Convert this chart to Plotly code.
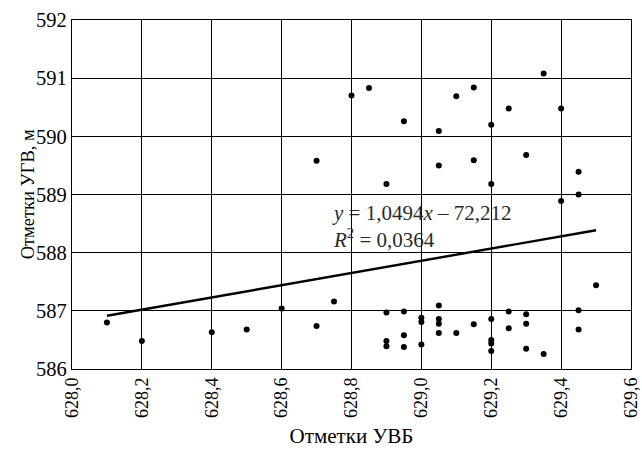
import plotly.graph_objects as go

# Observed pairs: headwater level (УВБ) vs groundwater level (УГВ)
uvb = [628.1, 628.2, 628.4, 628.5, 628.6, 628.7, 628.7, 628.75, 628.8, 628.85,
       628.9, 628.9, 628.9, 628.9, 628.95, 628.95, 628.95, 628.95,
       629.0, 629.0, 629.0, 629.05, 629.05, 629.05, 629.05, 629.05, 629.05,
       629.1, 629.1, 629.15, 629.15, 629.15,
       629.2, 629.2, 629.2, 629.2, 629.2, 629.2,
       629.25, 629.25, 629.25, 629.3, 629.3, 629.3, 629.3,
       629.35, 629.35, 629.4, 629.4, 629.45, 629.45, 629.45, 629.45, 629.5]
ugv = [586.80, 586.48, 586.63, 586.68, 587.04, 586.74, 589.58, 587.16, 590.70, 590.83,
       586.97, 589.18, 586.48, 586.39, 586.99, 586.58, 586.38, 590.26,
       586.88, 586.81, 586.42, 587.09, 586.86, 586.78, 586.62, 590.09, 589.50,
       586.62, 590.69, 586.77, 590.84, 589.59,
       586.86, 586.50, 586.44, 586.31, 590.20, 589.18,
       586.99, 586.70, 590.48, 586.94, 586.78, 586.35, 589.68,
       586.26, 591.08, 590.48, 588.89, 587.01, 586.68, 589.39, 589.00, 587.44]

# Linear trend coefficients
slope = 1.0494
intercept = -72.212
trend_x = [min(uvb), max(uvb)]
trend_y = [slope * v + intercept for v in trend_x]

font_family = "Liberation Serif, Times New Roman, serif"

fig = go.Figure()
fig.add_trace(go.Scatter(x=uvb, y=ugv, mode="markers",
                         marker=dict(color="black", size=6), showlegend=False))
fig.add_trace(go.Scatter(x=trend_x, y=trend_y, mode="lines",
                         line=dict(color="black", width=2.4), showlegend=False))

# Regression equation and coefficient of determination
fig.add_annotation(x=628.738, y=588.93, xref="x", yref="y",
                   text="<i>y</i> = 1,0494<i>x</i> – 72,212<br><i>R</i><sup>2</sup> = 0,0364",
                   showarrow=False, xanchor="left", yanchor="top", align="left",
                   font=dict(family=font_family, size=21, color="#2a2a2a"))

# Vertical axis title, placed close to the tick labels
fig.add_annotation(x=-0.079, y=0.5, xref="paper", yref="paper",
                   text="Отметки УГВ, м", textangle=-90, showarrow=False,
                   xanchor="center", yanchor="middle",
                   font=dict(family=font_family, size=18.5, color="black"))

axis_common = dict(showgrid=True, gridcolor="black", gridwidth=1.4,
                   showline=True, linecolor="black", linewidth=1.4, mirror=True,
                   zeroline=False, ticks="", automargin=False)

fig.update_xaxes(range=[628.0, 629.60001], dtick=0.2, tick0=628.0, tickformat=".1f",
                 tickangle=-90, ticklabeloverflow="allow",
                 tickfont=dict(family=font_family, size=18, color="black"),
                 title=dict(text="Отметки УВБ", font=dict(family=font_family, size=21, color="black"),
                            standoff=11),
                 **axis_common)
fig.update_yaxes(range=[586, 592], dtick=1, tickformat="d",
                 tickfont=dict(family=font_family, size=20.5, color="black"),
                 **axis_common)

fig.update_layout(width=642, height=452, separators=", ",
                  margin=dict(l=72, r=11, t=20, b=83, autoexpand=False),
                  plot_bgcolor="white", paper_bgcolor="white",
                  font=dict(family=font_family, color="black"))

fig.write_html("out.html")
